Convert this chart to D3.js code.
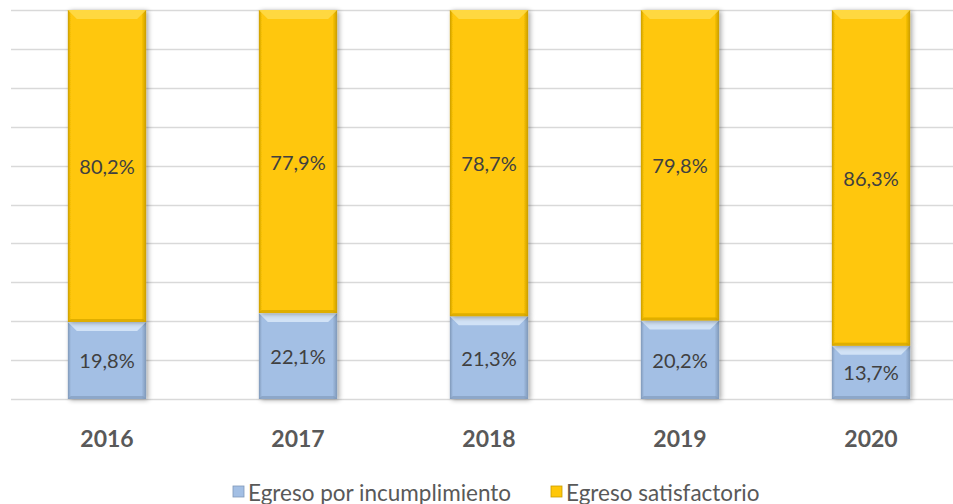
<!DOCTYPE html>
<html>
<head>
<meta charset="utf-8">
<script src="https://cdn.jsdelivr.net/npm/d3@7"></script>
<style>
  body { margin: 0; background: #fff; }
  svg { display: block; font-family: Lato, "Open Sans", sans-serif; }
</style>
</head>
<body>
<div id="chart"></div>
<script>
const years = ["2016", "2017", "2018", "2019", "2020"];
const incumplimiento = [19.8, 22.1, 21.3, 20.2, 13.7];
const satisfactorio = [80.2, 77.9, 78.7, 79.8, 86.3];
const seriesNames = ["Egreso por incumplimiento", "Egreso satisfactorio"];
const yTicks = [0, 10, 20, 30, 40, 50, 60, 70, 80, 90, 100];

const width = 953, height = 504;
const colors = ["#a3bfe4", "#ffc708"];
const darks = ["#7f98b8", "#c99c00"];
const lights = ["#dcebfa", "#ffdc50"];

const svg = d3.select("#chart").append("svg")
  .attr("width", width).attr("height", height);

const defs = svg.append("defs");
const shadow = defs.append("filter").attr("id", "shadow")
  .attr("x", "-20%").attr("y", "-10%").attr("width", "140%").attr("height", "120%");
shadow.append("feGaussianBlur").attr("in", "SourceAlpha").attr("stdDeviation", 2.5);
shadow.append("feOffset").attr("dx", 2).attr("dy", 1).attr("result", "b");
shadow.append("feComponentTransfer").append("feFuncA").attr("type", "linear").attr("slope", 0.35);
const merge = shadow.append("feMerge");
merge.append("feMergeNode");
merge.append("feMergeNode").attr("in", "SourceGraphic");

colors.forEach((c, i) => {
  const g = defs.append("linearGradient").attr("id", "side" + i)
    .attr("x1", 0).attr("x2", 1).attr("y1", 0).attr("y2", 0);
  g.append("stop").attr("offset", "0%").attr("stop-color", darks[i]);
  g.append("stop").attr("offset", "4%").attr("stop-color", c);
  g.append("stop").attr("offset", "94%").attr("stop-color", c);
  g.append("stop").attr("offset", "100%").attr("stop-color", darks[i]);
});

const x = d3.scaleBand().domain(years).range([11.5, 966.5]).paddingInner(0.59).paddingOuter(0.295);
const y = d3.scaleLinear().domain([0, 100]).range([399, 10]);

// gridlines
svg.append("g").selectAll("line").data(yTicks).join("line")
  .attr("x1", 11).attr("x2", width)
  .attr("y1", d => Math.round(y(d)) + 0.5).attr("y2", d => Math.round(y(d)) + 0.5)
  .attr("stroke", "#d9d9d9").attr("stroke-width", 1.3);

const stackData = years.map((yr, i) => ({ year: yr, a: incumplimiento[i], b: satisfactorio[i] }));
const stack = d3.stack().keys(["a", "b"])(stackData);

const bw = x.bandwidth();
stack.forEach((layer, si) => {
  const g = svg.append("g");
  layer.forEach(seg => {
    const x0 = x(seg.data.year);
    const y0 = y(seg[1]);
    const h = y(seg[0]) - y(seg[1]);
    const bar = g.append("g").attr("filter", "url(#shadow)");
    bar.append("rect").attr("x", x0).attr("y", y0).attr("width", bw).attr("height", h)
      .attr("fill", `url(#side${si})`);
    // top bevel highlight
    const bv = 9;
    bar.append("path")
      .attr("d", `M${x0},${y0} L${x0 + bw},${y0} L${x0 + bw - bv},${y0 + bv} L${x0 + bv},${y0 + bv} Z`)
      .attr("fill", lights[si]).attr("opacity", 0.8);
    // bottom bevel shade
    bar.append("path")
      .attr("d", `M${x0},${y0 + h} L${x0 + bw},${y0 + h} L${x0 + bw - 3},${y0 + h - 3} L${x0 + 3},${y0 + h - 3} Z`)
      .attr("fill", darks[si]).attr("opacity", 0.6);
  });
});

// data labels
stack.forEach(layer => {
  svg.append("g").selectAll("text").data(layer).join("text")
    .attr("x", d => x(d.data.year) + bw / 2)
    .attr("y", d => (y(d[0]) + y(d[1])) / 2)
    .attr("text-anchor", "middle").attr("dominant-baseline", "central")
    .attr("font-size", 20).attr("fill", "#404040")
    .text(d => (d[1] - d[0]).toFixed(1).replace(".", ",") + "%");
});

// x axis labels
svg.append("g").selectAll("text").data(years).join("text")
  .attr("x", d => x(d) + bw / 2).attr("y", 438)
  .attr("text-anchor", "middle").attr("dominant-baseline", "central")
  .attr("font-size", 23).attr("font-weight", "bold").attr("fill", "#595959")
  .text(d => d);

// legend
const legendX = [233, 551];
const legend = svg.append("g").selectAll("g").data(seriesNames).join("g")
  .attr("transform", (d, i) => `translate(${legendX[i]},492)`);
legend.append("rect").attr("x", 0).attr("y", -6).attr("width", 11).attr("height", 11)
  .attr("fill", (d, i) => colors[i]).attr("stroke", (d, i) => darks[i]).attr("stroke-width", 0.8);
legend.append("text").attr("x", 15).attr("y", 0).attr("dominant-baseline", "central")
  .attr("font-size", 22.5).attr("fill", "#595959").text(d => d);
</script>
</body>
</html>
